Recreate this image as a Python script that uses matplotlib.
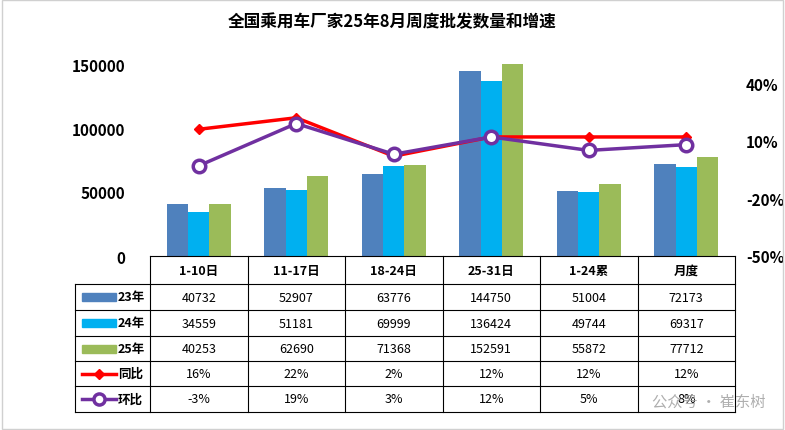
import matplotlib
matplotlib.use("Agg")
import matplotlib.pyplot as plt
from matplotlib.lines import Line2D
from matplotlib.patches import Rectangle
import numpy as np

plt.rcParams["font.family"] = "Noto Sans CJK SC"

categories = ["1-10日", "11-17日", "18-24日", "25-31日", "1-24累", "月度"]
s23 = [40732, 52907, 63776, 144750, 51004, 72173]
s24 = [34559, 51181, 69999, 136424, 49744, 69317]
s25 = [40253, 62690, 71368, 152591, 55872, 77712]
yoy = [16, 22, 2, 12, 12, 12]
mom = [-3, 19, 3, 12, 5, 8]
series_names = ["23年", "24年", "25年", "同比", "环比"]
title = "全国乘用车厂家25年8月周度批发数量和增速"

W, H = 785, 431
fig = plt.figure(figsize=(W/100, H/100), dpi=100)
fig.patch.set_facecolor("white")

L, R, T, B = 150, 735, 65, 257
ax = fig.add_axes([L/W, 1-B/H, (R-L)/W, (B-T)/H])
x = np.arange(len(categories))
bw = 0.22
c23, c24, c25 = "#4F81BD", "#00B0F0", "#9BBB59"
ax.bar(x-bw, s23, bw, color=c23)
ax.bar(x, s24, bw, color=c24)
ax.bar(x+bw, s25, bw, color=c25)
ax.set_xlim(-0.5, len(categories)-0.5)
ax.set_ylim(0, 150000)
ax.set_yticks([0, 50000, 100000, 150000])
ax.set_yticklabels(["0", "50000", "100000", "150000"], fontweight="bold", fontsize=11)
ax.set_xticks([])
for s in ax.spines.values():
    s.set_visible(False)
ax.tick_params(axis="y", length=0, pad=18)

ax2 = ax.twinx()
ax2.plot(x, yoy, color="#FF0000", lw=2.5, marker="D", ms=5)
ax2.plot(x, mom, color="#7030A0", lw=2.5, marker="o", ms=9, mfc="white", mew=2.5)
ax2.set_ylim(-50, 50)
ax2.set_yticks([-50, -20, 10, 40])
ax2.set_yticklabels(["-50%", "-20%", "10%", "40%"], fontweight="bold", fontsize=11)
ax2.tick_params(axis="y", length=0, pad=8)
for s in ax2.spines.values():
    s.set_visible(False)

fig.text(0.5, 1-22/H, title, ha="center", va="center", fontsize=12, fontweight="bold")

rows_y = [257, 285, 311, 337, 362, 387, 413]
x0 = 75
colw = (R-L)/len(categories)
def fx(px): return px/W
def fy(py): return 1-py/H
lk = dict(color="black", lw=0.8, transform=fig.transFigure)
fig.add_artist(Line2D([fx(L), fx(R)], [fy(rows_y[0])]*2, **lk))
for py in rows_y[1:]:
    fig.add_artist(Line2D([fx(x0), fx(R)], [fy(py)]*2, **lk))
fig.add_artist(Line2D([fx(x0)]*2, [fy(rows_y[1]), fy(rows_y[-1])], **lk))
for i in range(len(categories)+1):
    px = L + i*colw
    fig.add_artist(Line2D([fx(px)]*2, [fy(rows_y[0]), fy(rows_y[-1])], **lk))
for i, c in enumerate(categories):
    fig.text(fx(L+(i+0.5)*colw), fy((rows_y[0]+rows_y[1])/2), c, ha="center", va="center", fontsize=9, fontweight="bold")
data_rows = [s23, s24, s25, [f"{v}%" for v in yoy], [f"{v}%" for v in mom]]
for r, vals in enumerate(data_rows):
    cy = (rows_y[r+1]+rows_y[r+2])/2
    for i, v in enumerate(vals):
        fig.text(fx(L+(i+0.5)*colw), fy(cy), str(v), ha="center", va="center", fontsize=9)
    if r < 3:
        col = [c23, c24, c25][r]
        fig.add_artist(Rectangle((fx(x0+7), fy(cy+4)), fx(34), 8/H, color=col, transform=fig.transFigure))
    else:
        col = "#FF0000" if r == 3 else "#7030A0"
        fig.add_artist(Line2D([fx(x0+7), fx(x0+41)], [fy(cy)]*2, color=col, lw=2.5, transform=fig.transFigure))
        if r == 3:
            fig.add_artist(Line2D([fx(x0+24)], [fy(cy)], color=col, marker="D", ms=5, transform=fig.transFigure))
        else:
            fig.add_artist(Line2D([fx(x0+24)], [fy(cy)], color=col, marker="o", ms=8, mfc="white", mew=2.5, transform=fig.transFigure))
    fig.text(fx(x0+43), fy(cy), series_names[r], ha="left", va="center", fontsize=9, fontweight="bold")

fig.text(fx(765), fy(402), "公众号 · 崔东树", ha="right", va="center", fontsize=11, color="#9a9a9a", alpha=0.8)
fig.add_artist(Rectangle((0.002, 0.003), 0.995, 0.994, fill=False, ec="#d0d0d0", lw=1, transform=fig.transFigure))

fig.savefig("out.png", dpi=100)
